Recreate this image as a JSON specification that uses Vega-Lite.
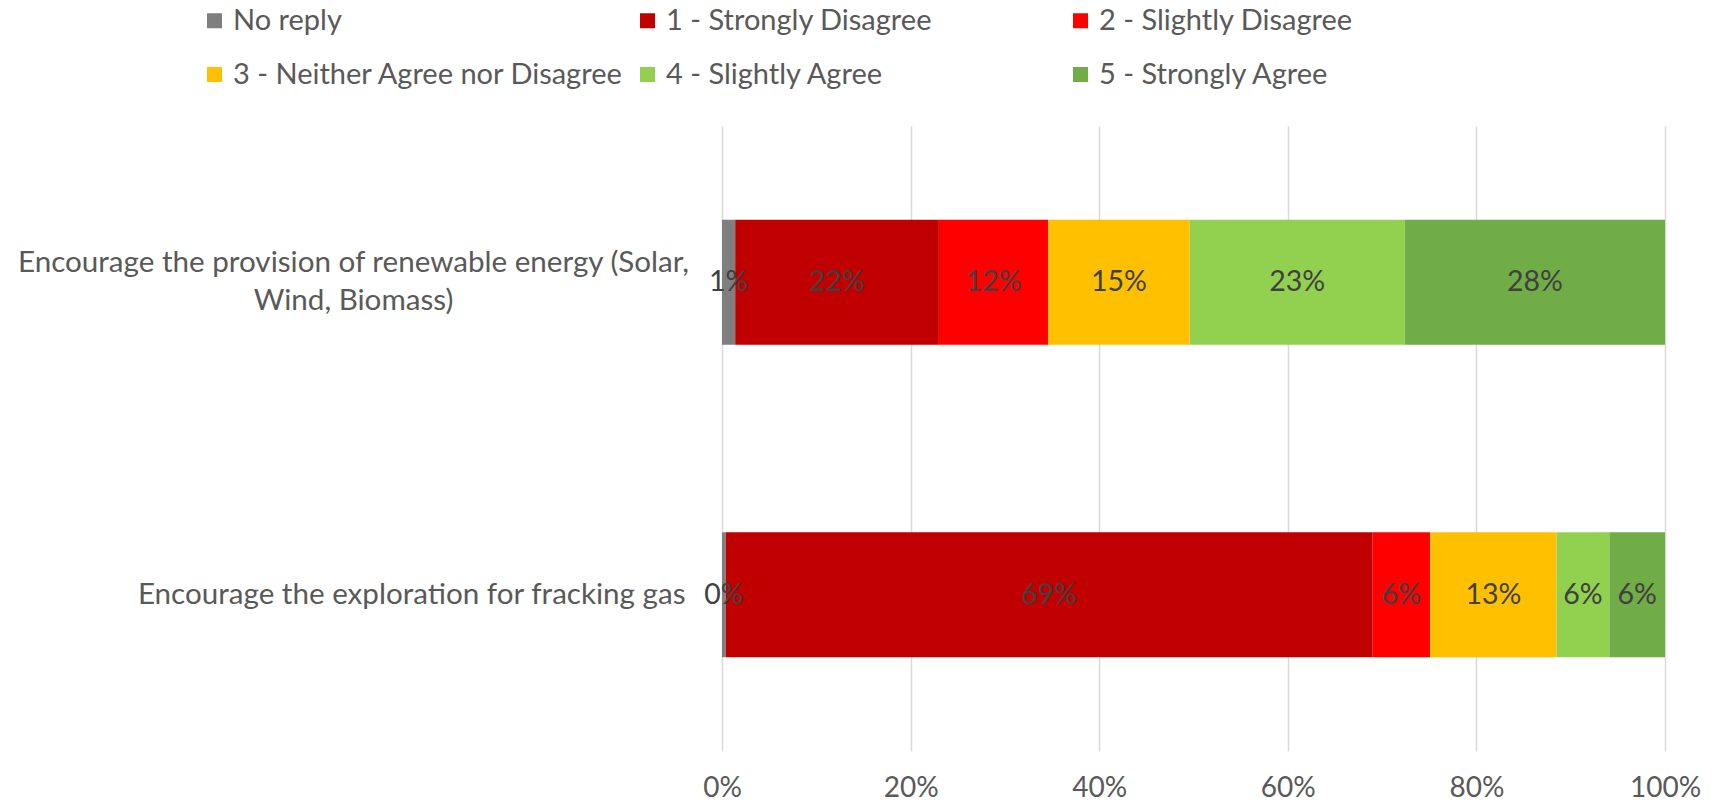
{
  "$schema": "https://vega.github.io/schema/vega-lite/v6.json",
  "width": 943,
  "height": 625,
  "autosize": {"type": "none"},
  "padding": {"left": 722, "top": 126, "right": 54, "bottom": 57},
  "background": "white",
  "config": {
    "view": {"stroke": null},
    "font": "Lato"
  },
  "data": {
    "values": [
      {"question": "Encourage the provision of renewable energy (Solar, Wind, Biomass)", "response": "No reply", "rank": 0, "share": 0.014},
      {"question": "Encourage the provision of renewable energy (Solar, Wind, Biomass)", "response": "1 - Strongly Disagree", "rank": 1, "share": 0.216},
      {"question": "Encourage the provision of renewable energy (Solar, Wind, Biomass)", "response": "2 - Slightly Disagree", "rank": 2, "share": 0.116},
      {"question": "Encourage the provision of renewable energy (Solar, Wind, Biomass)", "response": "3 - Neither Agree nor Disagree", "rank": 3, "share": 0.150},
      {"question": "Encourage the provision of renewable energy (Solar, Wind, Biomass)", "response": "4 - Slightly Agree", "rank": 4, "share": 0.228},
      {"question": "Encourage the provision of renewable energy (Solar, Wind, Biomass)", "response": "5 - Strongly Agree", "rank": 5, "share": 0.276},
      {"question": "Encourage the exploration for fracking gas", "response": "No reply", "rank": 0, "share": 0.004},
      {"question": "Encourage the exploration for fracking gas", "response": "1 - Strongly Disagree", "rank": 1, "share": 0.686},
      {"question": "Encourage the exploration for fracking gas", "response": "2 - Slightly Disagree", "rank": 2, "share": 0.061},
      {"question": "Encourage the exploration for fracking gas", "response": "3 - Neither Agree nor Disagree", "rank": 3, "share": 0.134},
      {"question": "Encourage the exploration for fracking gas", "response": "4 - Slightly Agree", "rank": 4, "share": 0.056},
      {"question": "Encourage the exploration for fracking gas", "response": "5 - Strongly Agree", "rank": 5, "share": 0.059}
    ]
  },
  "encoding": {
    "y": {
      "field": "question",
      "type": "nominal",
      "sort": ["Encourage the provision of renewable energy (Solar, Wind, Biomass)", "Encourage the exploration for fracking gas"],
      "scale": {"paddingInner": 0.6, "paddingOuter": 0.3},
      "axis": {
        "title": null,
        "domain": false,
        "ticks": false,
        "labelFontSize": 29.6,
        "labelColor": "#595959",
        "labelLimit": 900,
        "labelLineHeight": 38,
        "labelAlign": {"condition": {"test": "length(datum.label) > 50", "value": "center"}, "value": "right"},
        "labelPadding": {"condition": {"test": "length(datum.label) > 50", "value": 369}, "value": 37},
        "labelOffset": {"condition": {"test": "length(datum.label) > 50", "value": -19}, "value": 0},
        "labelExpr": "length(datum.label) > 50 ? ['Encourage the provision of renewable energy (Solar,', 'Wind, Biomass)'] : datum.label"
      }
    },
    "x": {
      "field": "share",
      "type": "quantitative",
      "stack": "zero",
      "scale": {"domain": [0, 1]},
      "axis": {
        "title": null,
        "format": ".0%",
        "values": [0, 0.2, 0.4, 0.6, 0.8, 1],
        "domain": false,
        "ticks": false,
        "grid": true,
        "gridColor": "#d9d9d9",
        "gridWidth": 1.5,
        "labelFontSize": 28,
        "labelColor": "#595959",
        "labelPadding": 23,
        "labelFlush": false
      }
    },
    "order": {"field": "rank", "type": "quantitative"}
  },
  "layer": [
    {
      "mark": {"type": "bar"},
      "encoding": {
        "color": {
          "field": "response",
          "type": "nominal",
          "scale": {
            "domain": ["No reply", "1 - Strongly Disagree", "2 - Slightly Disagree", "3 - Neither Agree nor Disagree", "4 - Slightly Agree", "5 - Strongly Agree"],
            "range": ["#7f7f7f", "#c00000", "#ff0000", "#ffc000", "#92d050", "#70ad47"]
          },
          "legend": {
            "title": null,
            "orient": "none",
            "legendX": -522,
            "legendY": -120,
            "direction": "horizontal",
            "columns": 3,
            "gridAlign": "all",
            "columnPadding": 9,
            "rowPadding": 24,
            "symbolType": "square",
            "symbolSize": 225,
            "symbolStrokeWidth": 0,
            "labelFontSize": 29,
            "labelColor": "#595959",
            "labelOffset": 4,
            "labelLimit": 700
          }
        }
      }
    },
    {
      "mark": {"type": "text", "fontSize": 28.5, "color": "#404040"},
      "encoding": {
        "x": {"field": "share", "type": "quantitative", "stack": "zero", "bandPosition": 0.5},
        "detail": {"field": "response"},
        "text": {"field": "share", "type": "quantitative", "format": ".0%"}
      }
    }
  ]
}
